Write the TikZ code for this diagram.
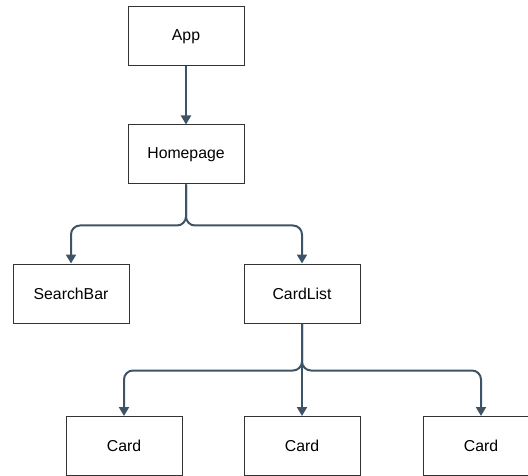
\documentclass[tikz,border=0pt]{standalone}
\usepackage{fontspec}
\setmainfont{Liberation Sans}
\usetikzlibrary{arrows.meta}
\definecolor{linec}{HTML}{3E5466}
\definecolor{boxc}{HTML}{333333}
\tikzset{
  box/.style={draw=boxc, line width=1pt, fill=white, minimum width=116pt, minimum height=59pt, inner sep=0pt, font=\fontsize{15.8}{18}\selectfont},
  conn/.style={draw=linec, line width=2pt, rounded corners=9pt, -{Triangle[width=10pt,length=9pt]}}
}
\begin{document}
\begin{tikzpicture}[x=1pt,y=1pt]
\useasboundingbox (0,0) rectangle (528,-476);
\clip (0,0) rectangle (528,-476);
\node[box] (app) at (186,-36.5) {App};
\node[box] (home) at (186,-154.5) {Homepage};
\node[box] (search) at (71,-293.5) {SearchBar};
\node[box] (list) at (302,-293.5) {CardList};
\node[box] (c1) at (124,-446) {Card};
\node[box] (c2) at (302,-446) {Card};
\node[box] (c3) at (481,-446) {Card};
\draw[conn] (app) -- (home);
\draw[conn] (home.south) -- ++(0,-41) -| (search.north);
\draw[conn] (home.south) -- ++(0,-41) -| (list.north);
\draw[conn] (list.south) -- ++(0,-47) -| (c1.north);
\draw[conn] (list.south) -- (c2.north);
\draw[conn] (list.south) -- ++(0,-47) -| (c3.north);
\end{tikzpicture}
\end{document}
